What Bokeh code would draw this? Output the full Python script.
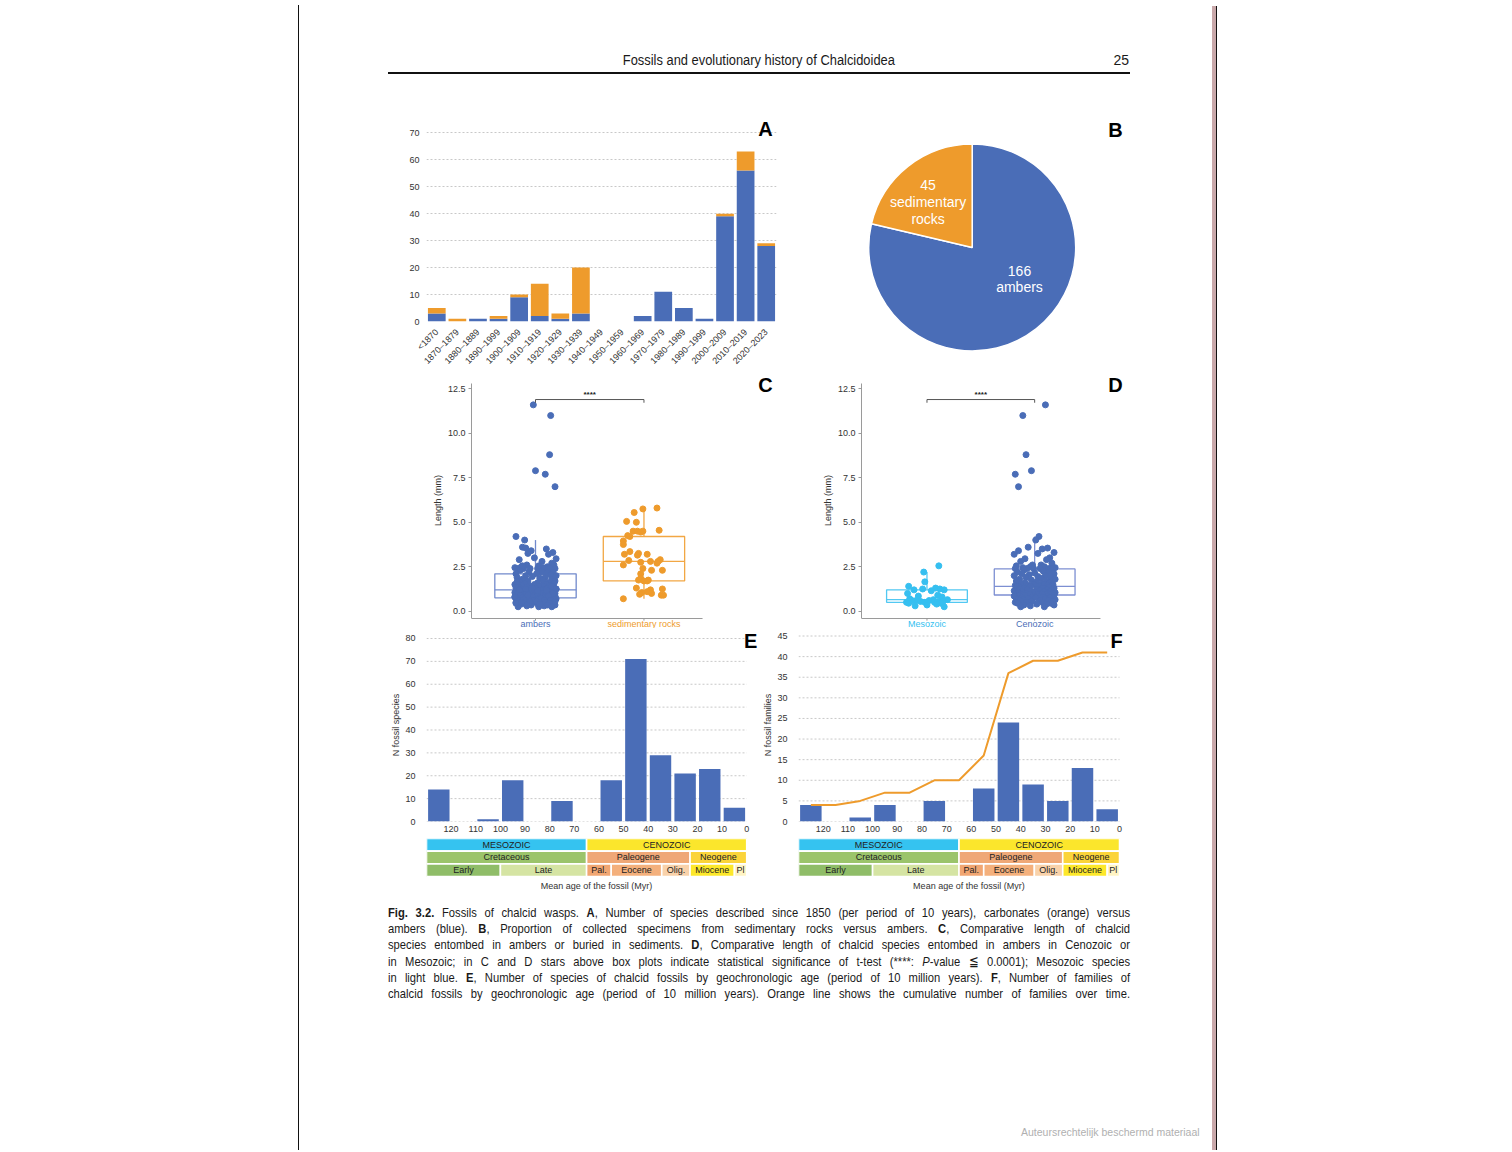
import math
import numpy as np
from bokeh.plotting import figure
from bokeh.models import (ColumnDataSource, Range1d, FactorRange, FixedTicker,
                          PrintfTickFormatter, Label, Div, Spacer)
from bokeh.layouts import row, column
from bokeh.embed import file_html
from bokeh.resources import INLINE
from bokeh.core.properties import value

# ---------------------------------------------------------------- data
# A: species described per decade
decades = ["<1870", "1870–1879", "1880–1889", "1890–1999", "1900–1909", "1910–1919",
           "1920–1929", "1930–1939", "1940–1949", "1950–1959", "1960–1969", "1970–1979",
           "1980–1989", "1990–1999", "2000–2009", "2010–2019", "2020–2023"]
species_amber = [3, 0, 1, 1, 9, 2, 1, 3, 0, 0, 2, 11, 5, 1, 39, 56, 28]
species_sediment = [2, 1, 0, 1, 1, 12, 2, 17, 0, 0, 0, 0, 0, 0, 1, 7, 1]

# B: pie
pie_names = ["ambers", "sedimentary rocks"]
pie_counts = [166, 45]

# C / D: body length (mm)
length_cenozoic = [11.6, 11.0, 8.8, 7.9, 7.7, 7.0,
                   4.2, 4.0, 3.6, 3.55, 3.5, 3.4, 3.3, 3.25, 3.2, 3.0, 2.95, 2.9, 2.8, 2.7,
                   2.6, 2.6, 2.55, 2.5, 2.5, 2.45, 2.45, 2.4, 2.4,
                   2.4, 2.4, 2.4, 2.4, 2.4,
                   2.3, 2.25, 2.2, 2.2, 2.15, 2.1, 2.1, 2.05, 2.0, 2.0, 1.95, 1.9, 1.9, 1.85,
                   1.8, 1.8, 1.75, 1.7, 1.7, 1.65, 1.6, 1.6, 1.55, 1.55, 1.5, 1.5, 1.5, 1.45,
                   1.45, 1.45, 1.4, 1.4, 1.4,
                   1.4, 1.35, 1.35, 1.3, 1.3, 1.3, 1.25, 1.25, 1.2, 1.2, 1.2, 1.15, 1.15, 1.1,
                   1.1, 1.1, 1.1, 1.05, 1.05, 1.05, 1.0, 1.0, 1.0, 1.0, 1.0, 0.95, 0.95, 0.95,
                   0.95, 0.95, 0.95, 0.95, 0.95,
                   0.9, 0.9, 0.9, 0.85, 0.85, 0.85, 0.8, 0.8, 0.8, 0.75, 0.75, 0.75, 0.7, 0.7,
                   0.7, 0.65, 0.65, 0.6, 0.6, 0.6, 0.55, 0.55, 0.5, 0.5, 0.5, 0.45, 0.45, 0.4,
                   0.4, 0.35, 0.35, 0.3, 0.25, 0.25]
length_mesozoic = [2.55, 2.2, 1.65, 1.4, 1.3, 1.25, 1.25, 1.2, 1.2, 1.15, 1.0, 0.9, 0.85,
                   0.8, 0.7, 0.65, 0.65, 0.6, 0.6, 0.6, 0.55, 0.55, 0.55, 0.5, 0.5, 0.5,
                   0.45, 0.45, 0.4, 0.35, 0.3, 0.25]
length_sediment = [5.8, 5.75, 5.55, 5.05, 5.0, 4.55, 4.5, 4.5, 4.5, 4.45, 4.25, 4.2, 3.95,
                   3.75, 3.35, 3.25, 3.2, 3.2, 3.15, 2.9, 2.85, 2.8, 2.8, 2.75, 2.7, 2.6,
                   2.4, 2.3, 2.3, 2.1, 1.85, 1.75, 1.75, 1.7, 1.7, 1.3, 1.25, 1.2, 1.1,
                   1.05, 1.0, 0.95, 0.9, 0.9, 0.7]
# horizontal jitter of the points
jitter_c_cenozoic = [-0.02, 0.14, 0.13, 0.00, 0.09, 0.18,
                     -0.18, -0.10, -0.12, -0.09, 0.10, -0.04, 0.16, -0.07, 0.12, -0.01, 0.19,
                     -0.15, 0.06, 0.15, -0.08, 0.17, 0.03, -0.13, 0.11, -0.19, 0.07, -0.05, 0.13,
                     0.02, -0.16, 0.18, -0.11, 0.08,
                     -0.14, 0.05, 0.16, -0.06, 0.11, -0.18, 0.01, 0.14, -0.09, 0.19, -0.03, 0.09,
                     -0.17, 0.04, 0.15, -0.12, 0.07, -0.07, 0.18, -0.15, 0.02, 0.12, -0.10, 0.17,
                     -0.01, -0.19, 0.10, 0.06, -0.13, 0.14, -0.05, 0.08, -0.16,
                     0.03, -0.08, 0.16, -0.18, 0.11, 0.00, -0.12, 0.19, 0.07, -0.04, 0.13, -0.15,
                     0.05, -0.10, 0.17, -0.02, 0.09, -0.19, 0.14, 0.01, -0.07, 0.18, -0.13, 0.06,
                     -0.17, 0.12, -0.05, 0.15, -0.11, 0.04, -0.16, 0.10, -0.09,
                     0.16, -0.14, 0.02, 0.18, -0.06, 0.11, -0.19, 0.07, -0.03, 0.15, -0.12, 0.04,
                     0.19, -0.17, 0.09, -0.08, 0.13, -0.01, -0.15, 0.17, 0.06, -0.11, 0.12, -0.18,
                     0.00, 0.14, -0.06, 0.10, -0.13, 0.18, -0.04, 0.08, -0.16, 0.03]
jitter_c_mesozoic = [-0.12, 0.06, -0.17, 0.15, -0.03, 0.19, -0.09, 0.10, -0.15, 0.02, 0.16,
                     -0.07, 0.12, -0.19, 0.05, 0.17, -0.11, 0.08, -0.02, 0.14, -0.16, 0.01,
                     0.18, -0.13, 0.09, -0.05, 0.13, -0.18, 0.04, 0.11, -0.08, 0.15]
jitter_d_cenozoic = [0.10, -0.11, -0.08, -0.03, -0.18, -0.15,
                     0.04, 0.01, -0.06, 0.12, 0.07, -0.15, 0.18, 0.03, -0.19, 0.14, -0.09, 0.11,
                     -0.13, 0.16, -0.02, 0.06, -0.17, 0.09, -0.04, 0.19, -0.11, 0.13, -0.07,
                     0.15, -0.18, 0.05, -0.01, 0.17,
                     -0.10, 0.08, -0.16, 0.13, 0.00, -0.12, 0.18, -0.05, 0.10, -0.19, 0.03, 0.15,
                     -0.08, 0.06, -0.14, 0.19, -0.03, 0.11, -0.17, 0.02, 0.14, -0.09, 0.07, -0.13,
                     0.17, -0.01, 0.09, -0.18, 0.12, -0.06, 0.04, -0.15, 0.16,
                     -0.04, 0.13, -0.17, 0.08, 0.18, -0.10, 0.02, -0.14, 0.11, -0.07, 0.16, -0.19,
                     0.05, -0.02, 0.14, -0.12, 0.09, 0.19, -0.16, 0.01, -0.08, 0.12, -0.15, 0.06,
                     0.17, -0.11, 0.03, -0.18, 0.10, -0.05, 0.15, -0.13, 0.07,
                     -0.09, 0.18, -0.15, 0.04, 0.12, -0.19, 0.08, -0.02, 0.16, -0.12, 0.01, 0.14,
                     -0.17, 0.10, -0.06, 0.19, -0.11, 0.05, -0.14, 0.13, -0.03, 0.17, -0.18, 0.07,
                     -0.08, 0.15, -0.16, 0.02, 0.11, -0.10, 0.18, -0.04, 0.09, -0.13]
jitter_d_mesozoic = [0.11, -0.03, -0.02, -0.17, 0.08, -0.04, 0.12, -0.12, 0.16, 0.04, -0.18,
                     0.10, -0.08, 0.14, -0.16, 0.06, 0.19, -0.10, 0.02, -0.14, 0.11, -0.06,
                     0.15, -0.19, 0.07, -0.02, 0.13, -0.17, 0.09, 0.00, -0.11, 0.16]
jitter_sediment = [0.12, -0.01, -0.09, -0.16, -0.07, 0.14, -0.10, -0.06, -0.01, -0.03, -0.15,
                   -0.13, -0.19, -0.19, -0.13, -0.05, 0.03, -0.18, -0.06, 0.15, -0.14, 0.06,
                   0.13, -0.03, 0.12, -0.19, -0.01, 0.07, 0.17, -0.03, -0.03, -0.05, 0.04,
                   0.00, 0.03, -0.07, 0.17, 0.06, 0.03, -0.02, 0.07, -0.04, 0.16, 0.18, -0.19]

# E / F: by age bins (Myr)
bin_old = [130, 120, 110, 100, 90, 80, 70, 60, 50, 40, 30, 20, 10]
bin_young = [120, 110, 100, 90, 80, 70, 60, 50, 40, 30, 20, 10, 0]
species_by_age = [14, 0, 1, 18, 0, 9, 0, 18, 71, 29, 21, 23, 6]
families_by_age = [4, 0, 1, 4, 0, 5, 0, 8, 24, 9, 5, 13, 3]
families_cumulative = [4, 4, 5, 7, 7, 10, 10, 16, 36, 39, 39, 41, 41]
age_ticks = [120, 110, 100, 90, 80, 70, 60, 50, 40, 30, 20, 10, 0]

# geologic time scale
ts_names = ["MESOZOIC", "CENOZOIC", "Cretaceous", "Paleogene", "Neogene",
            "Early", "Late", "Pal.", "Eocene", "Olig.", "Miocene", "Pl"]
ts_old = [130, 65, 130, 65, 23, 130, 100, 65, 55, 34.5, 23, 5]
ts_young = [65, 0, 65, 23, 0, 100, 65, 55, 34.5, 23, 5, 0]
ts_level = [2, 2, 1, 1, 1, 0, 0, 0, 0, 0, 0, 0]
ts_colors = ["#35c3f0", "#fbe62c", "#9bc46b", "#efa877", "#fbd43a",
             "#8fbd68", "#d5e4a3", "#f1a672", "#f4b07c", "#f9d2aa", "#fde82a", "#fff4c4"]

# ---------------------------------------------------------------- style
BLUE = "#4a6db7"
ORANGE = "#ee9b2c"
LBLUE = "#35bff0"
FONT = "Liberation Sans"
TXT = "#333333"


def fig(**kw):
    return figure(output_backend="svg", toolbar_location=None, **kw)


def style_axes(p):
    for ax in p.axis:
        ax.major_label_text_font = FONT
        ax.major_label_text_font_size = "9px"
        ax.major_label_text_color = TXT
        ax.axis_label_text_font = FONT
        ax.axis_label_text_font_size = "9px"
        ax.axis_label_text_font_style = "normal"
        ax.axis_label_text_color = TXT
        ax.minor_tick_line_color = None


def letter(p, x, y, t):
    p.add_layout(Label(x=x, y=y, text=t, text_font=FONT, text_font_size="20px",
                       text_font_style="bold", text_color="#000000", text_align="center",
                       text_baseline="middle"))


def dotted_grid(p, ticks, x0, x1):
    p.segment(x0=[x0] * len(ticks), x1=[x1] * len(ticks), y0=ticks, y1=ticks,
              line_color="#c8c8c8", line_dash="2 2", line_width=1)


# ---------------------------------------------------------------- A
pA = fig(x_range=FactorRange(factors=decades), y_range=Range1d(0, 77.5), width=402, height=260,
         min_border_left=38, min_border_right=14, min_border_top=0, min_border_bottom=50)
srcA = ColumnDataSource(dict(decade=decades, amber=species_amber, sediment=species_sediment))
pA.vbar_stack(["amber", "sediment"], x="decade", width=0.86, fill_color=[BLUE, ORANGE],
              line_color=None, source=srcA)
pA.yaxis.ticker = FixedTicker(ticks=list(range(0, 71, 10)))
pA.xgrid.visible = False
pA.ygrid.grid_line_color = "#c8c8c8"
pA.ygrid.grid_line_dash = "2 2"
style_axes(pA)
for ax in pA.axis:
    ax.axis_line_color = None
    ax.major_tick_line_color = None
    ax.major_tick_out = 0
    ax.major_tick_in = 0
pA.yaxis.major_label_standoff = 7
pA.xaxis.major_label_orientation = math.pi / 4
pA.xaxis.major_label_standoff = 9
pA.outline_line_color = None
# synthetic categorical coordinate (factor i is centred on i + 0.5)
letter(pA, 16.46, 71.2, "A")

# ---------------------------------------------------------------- B
pB = fig(width=340, height=260, x_range=Range1d(-181.7, 158.3), y_range=Range1d(-125, 135),
         min_border_left=0, min_border_right=0, min_border_top=0, min_border_bottom=0,
         x_axis_location=None, y_axis_location=None)
tot = sum(pie_counts)
a0 = math.pi / 2
starts, ends = [], []
for c in pie_counts:
    starts.append(a0)
    a0 -= 2 * math.pi * c / tot
    ends.append(a0)
srcB = ColumnDataSource(dict(start=starts, end=ends, color=[BLUE, ORANGE], name=pie_names))
pB.wedge(x=0, y=0, radius=103.5, start_angle="start", end_angle="end", direction="clock",
         fill_color="color", line_color="white", line_width=1.5, source=srcB)
pB.grid.visible = False
pB.outline_line_color = None
for (tx, ty, t) in [(-44.1, 62.5, str(pie_counts[1])), (-44.1, 45.5, "sedimentary"),
                    (-44.1, 28.5, "rocks"), (47.3, -23, str(pie_counts[0])),
                    (47.3, -39.5, "ambers")]:
    pB.add_layout(Label(x=tx, y=ty, text=t, text_font=FONT, text_font_size="14px",
                        text_color="white", text_align="center", text_baseline="middle"))
letter(pB, 143.3, 118, "B")


# ---------------------------------------------------------------- C / D
def box_stats(vals):
    v = np.array(vals, dtype=float)
    q1, med, q3 = np.percentile(v, [25, 50, 75])
    iqr = q3 - q1
    lo = v[v >= q1 - 1.5 * iqr].min()
    hi = v[v <= q3 + 1.5 * iqr].max()
    return q1, med, q3, lo, hi


Y0, Y1 = -0.41, 12.8     # extent of the drawn axes


def box_panel(groups, width, mbl, xr, ax_end, lx, lt):
    p = fig(width=width, height=256, x_range=Range1d(*xr), y_range=Range1d(-0.972, 13.42),
            min_border_left=mbl, min_border_right=0, min_border_top=0, min_border_bottom=0,
            x_axis_location=None)
    # x axis line and ticks
    p.segment(x0=[xr[0], 1, 2], y0=[Y0, Y0, Y0], x1=[ax_end, 1, 2],
              y1=[Y0, Y0 - 0.12, Y0 - 0.12], line_color="#9a9a9a", line_width=1)
    for pos, vals, jit, pc, bc, name in groups:
        q1, med, q3, lo, hi = box_stats(vals)
        hw = 0.375
        p.quad(left=[pos - hw], right=[pos + hw], bottom=[q1], top=[q3], fill_alpha=0,
               line_color=bc, line_width=1.3)
        p.segment(x0=[pos - hw, pos, pos], y0=[med, q3, q1], x1=[pos + hw, pos, pos],
                  y1=[med, hi, lo], line_color=bc, line_width=1.3)
        p.scatter(x=[pos + j for j in jit], y=vals, size=6, fill_color=pc, line_color=pc)
        p.add_layout(Label(x=pos, y=-0.70, text=name, text_font=FONT, text_font_size="9px",
                           text_color=pc, text_align="center", text_baseline="middle"))
    by = 11.9
    p.segment(x0=[1, 1, 2], y0=[by - 0.18, by, by - 0.18], x1=[1, 2, 2], y1=[by, by, by],
              line_color="#555555", line_width=1)
    p.add_layout(Label(x=1.5, y=by + 0.02, text="****", text_font=FONT, text_font_size="8px",
                       text_font_style="bold", text_color="#222222", text_align="center",
                       text_baseline="bottom"))
    p.yaxis.ticker = FixedTicker(ticks=[0, 2.5, 5, 7.5, 10, 12.5])
    p.yaxis.formatter = PrintfTickFormatter(format="%.1f")
    p.yaxis.bounds = (Y0, Y1)
    p.yaxis.axis_label = "Length (mm)"
    style_axes(p)
    p.yaxis.axis_line_color = "#9a9a9a"
    p.yaxis.major_tick_line_color = "#9a9a9a"
    p.yaxis.major_tick_out = 3
    p.yaxis.major_tick_in = 0
    p.yaxis.major_label_standoff = 3
    p.yaxis.axis_label_standoff = 2
    p.grid.visible = False
    p.outline_line_color = None
    letter(p, lx, 12.74, lt)
    return p


pC = box_panel([(1, length_cenozoic + length_mesozoic, jitter_c_cenozoic + jitter_c_mesozoic,
                 BLUE, "#7189cc", "ambers"),
                (2, length_sediment, jitter_sediment, ORANGE, "#f2a744", "sedimentary rocks")],
               402, 83, (0.41, 3.351), 2.54, 3.12, "C")
pD = box_panel([(1, length_mesozoic, jitter_d_mesozoic, LBLUE, "#52c8f2", "Mesozoic"),
                (2, length_cenozoic, jitter_d_cenozoic, BLUE, "#7d8fd2", "Cenozoic")],
               340, 71, (0.392, 2.890), 2.611, 2.75, "D")

# ---------------------------------------------------------------- E / F
age_mid = [(o + y) / 2 for o, y in zip(bin_old, bin_young)]


def age_panel(vals, width, mbl, ytop, ymax, ystep, ylabel, xr):
    p = fig(width=width, height=209, x_range=xr, y_range=Range1d(0, ytop),
            min_border_left=mbl, min_border_right=0, min_border_top=0, min_border_bottom=16)
    yt = list(range(0, ymax + 1, ystep))
    dotted_grid(p, yt, bin_old[0], bin_young[-1])
    src = ColumnDataSource(dict(mid=age_mid, n=vals))
    p.vbar(x="mid", top="n", width=8.7, fill_color=BLUE, line_color=None, source=src)
    p.xaxis.ticker = FixedTicker(ticks=age_ticks)
    p.yaxis.ticker = FixedTicker(ticks=yt)
    p.grid.visible = False
    p.yaxis.axis_label = ylabel
    style_axes(p)
    for ax in p.axis:
        ax.axis_line_color = None
        ax.major_tick_line_color = None
        ax.major_tick_out = 0
        ax.major_tick_in = 0
    p.yaxis.major_label_standoff = 11
    p.yaxis.axis_label_standoff = 1
    p.xaxis.major_label_standoff = 4
    p.outline_line_color = None
    return p


def timescale(width, mbl, xr):
    p = fig(width=width, height=68, x_range=xr, y_range=Range1d(-2.29, 3),
            min_border_left=mbl, min_border_right=0, min_border_top=1, min_border_bottom=0,
            x_axis_location=None, y_axis_location=None)
    src = ColumnDataSource(dict(
        left=ts_old, right=ts_young, bottom=ts_level, top=[l + 1 for l in ts_level],
        color=ts_colors, name=ts_names,
        mid=[(a + b) / 2 for a, b in zip(ts_old, ts_young)], ymid=[l + 0.5 for l in ts_level]))
    p.quad(left="left", right="right", bottom="bottom", top="top", fill_color="color",
           line_color="white", line_width=1.6, source=src)
    p.text(x="mid", y="ymid", text="name", text_align="center", text_baseline="middle",
           text_font=value(FONT), text_font_size="9px", text_color="#222222", source=src)
    p.grid.visible = False
    p.outline_line_color = None
    p.add_layout(Label(x=61, y=-0.72, text="Mean age of the fossil (Myr)", text_font=FONT,
                       text_font_size="9px", text_color=TXT, text_align="center",
                       text_baseline="middle"))
    return p


xrE = Range1d(130, -5.6)
xrF = Range1d(130, -4.44)
pE = age_panel(species_by_age, 372, 33, 84.37, 80, 10, "N fossil species", xrE)
letter(pE, -1.6, 79.1, "E")
pEt = timescale(372, 33, xrE)

pF = age_panel(families_by_age, 370, 37, 46.82, 45, 5, "N fossil families", xrF)
pF.line(x=age_mid, y=families_cumulative, line_color=ORANGE, line_width=2)
letter(pF, 1.2, 43.9, "F")
pFt = timescale(370, 37, xrF)

# ---------------------------------------------------------------- page
PAGEFONT = "'Liberation Sans', Arial, sans-serif"
header_html = (
    f'<div style="position:relative;width:742px;height:112px;font-family:{PAGEFONT};color:#1a1a1a;">'
    '<div style="position:absolute;top:52px;left:0;width:742px;text-align:center;'
    'font-size:14px;line-height:16px;"><span style="display:inline-block;'
    'transform:scaleX(0.92);">Fossils and evolutionary history of Chalcidoidea</span></div>'
    '<div style="position:absolute;top:52px;right:1px;font-size:14px;line-height:16px;">25</div>'
    '<div style="position:absolute;top:72px;left:0;width:742px;height:0;'
    'border-top:2px solid #111;"></div></div>')
header = Div(text=header_html, width=742, height=112, margin=0)

cap_lines = [
    "<b>Fig. 3.2.</b> Fossils of chalcid wasps. <b>A</b>, Number of species described since 1850 (per period of 10 years), carbonates (orange) versus",
    "ambers (blue). <b>B</b>, Proportion of collected specimens from sedimentary rocks versus ambers. <b>C</b>, Comparative length of chalcid",
    "species entombed in ambers or buried in sediments. <b>D</b>, Comparative length of chalcid species entombed in ambers in Cenozoic or",
    "in Mesozoic; in C and D stars above box plots indicate statistical significance of t-test (****: <i>P</i>-value ≦ 0.0001); Mesozoic species",
    "in light blue. <b>E</b>, Number of species of chalcid fossils by geochronologic age (period of 10 million years). <b>F</b>, Number of families of",
    "chalcid fossils by geochronologic age (period of 10 million years). Orange line shows the cumulative number of families over time.",
]
SC = 0.83
inner_w = round(742 / SC)
cap_html = (f'<div style="width:{inner_w}px;transform:scaleX({SC});transform-origin:left top;'
            f'font-family:{PAGEFONT};font-size:13.5px;line-height:16.2px;color:#1a1a1a;">'
            + "".join('<div style="text-align:justify;text-align-last:justify;'
                      f'white-space:nowrap;">{ln}</div>' for ln in cap_lines)
            + '</div>')
caption = Div(text=cap_html, width=742, height=105, margin=0)

wm = Div(text=f'<div style="font-family:{PAGEFONT};font-size:10.5px;line-height:16px;'
              'color:#b0b0b0;white-space:nowrap;">Auteursrechtelijk beschermd materiaal</div>',
         width=191, height=16, margin=0)

H = 1150


def vbar_div(w, h, color):
    return Div(text="", width=w, height=h, margin=0, styles={"background-color": color})


left_line = column(Spacer(width=1, height=5), vbar_div(1, H - 5, "#111111"))
pink = column(Spacer(width=4, height=6), vbar_div(4, H - 6, "#c9a8aa"))
black = column(Spacer(width=1, height=6), vbar_div(1, H - 6, "#111111"))

L = 89
page = column(
    row(Spacer(width=L, height=112), header),
    row(Spacer(width=L, height=260), column(pA), column(pB)),
    row(Spacer(width=L, height=256), column(pC), column(pD)),
    row(Spacer(width=L, height=277), column(pE, pEt), column(pF, pFt)),
    row(Spacer(width=L, height=105), caption),
    Spacer(width=913, height=114),
    row(Spacer(width=722, height=16), wm),
)
root = row(Spacer(width=298, height=H), left_line, page, pink, black)

open("out.html", "w").write(file_html(root, INLINE, title="Fig. 3.2"))
